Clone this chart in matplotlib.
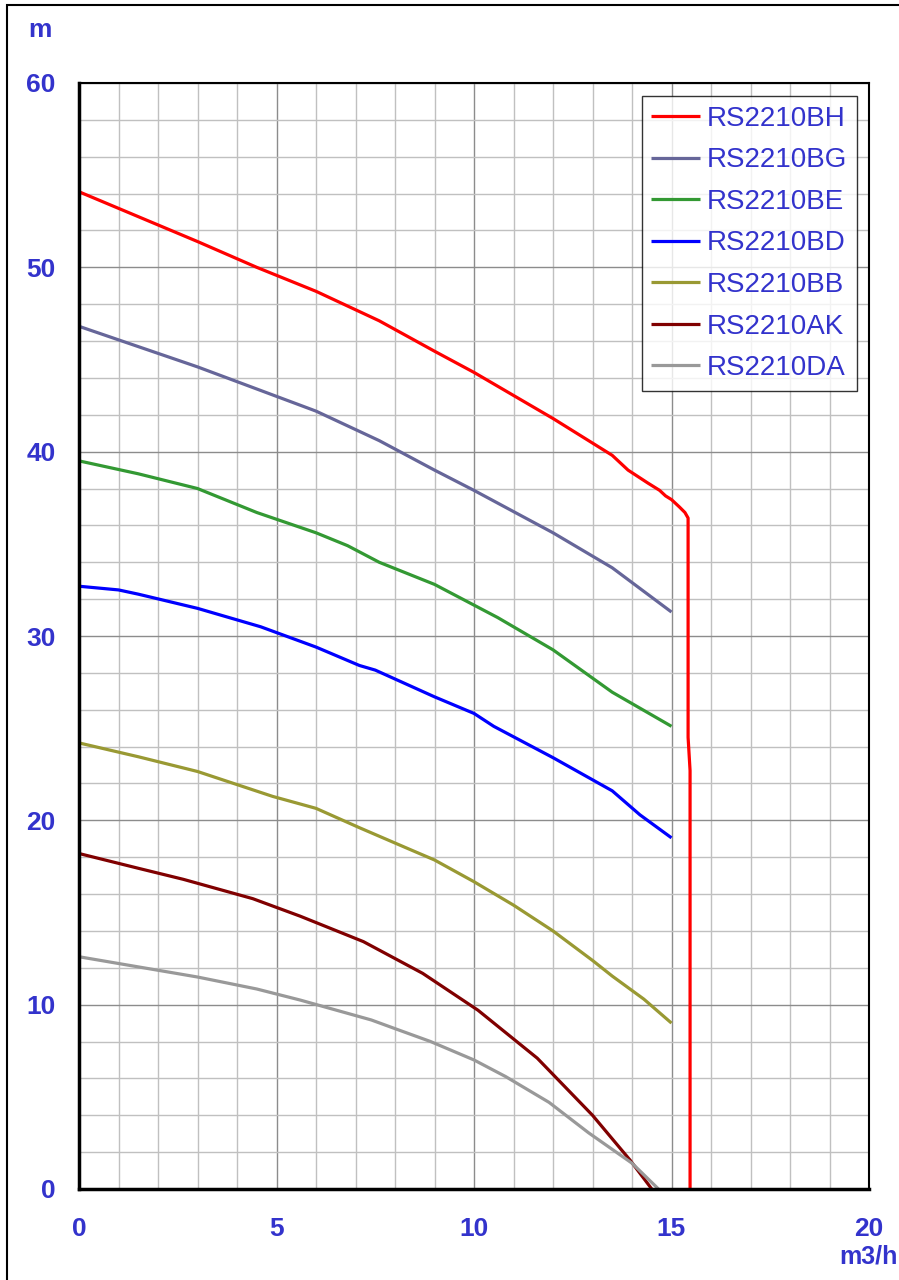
import numpy as np
import matplotlib
matplotlib.use('Agg')
import matplotlib.pyplot as plt
from matplotlib.patches import Rectangle
from matplotlib.ticker import MultipleLocator

plt.rcParams['font.family'] = ['Liberation Sans', 'DejaVu Sans']

# pump curves: flow (m3/h) / head (m)
BH_q = [0, 1.5, 3, 4.5, 6, 7.6, 9, 10, 11, 12, 13.5, 13.9, 14.4, 14.7, 14.85, 15.0, 15.2, 15.34, 15.42, 15.42, 15.47, 15.47]
BH_h = [54.1, 52.75, 51.4, 50.0, 48.7, 47.1, 45.45, 44.3, 43.05, 41.8, 39.8, 39.0, 38.3, 37.9, 37.6, 37.4, 37.0, 36.7, 36.4, 24.5, 22.7, 0]
BG_q = [0, 1.5, 3, 4.5, 6, 7.6, 9, 10, 12, 13.5, 15]
BG_h = [46.8, 45.7, 44.6, 43.4, 42.2, 40.6, 39.0, 37.9, 35.6, 33.7, 31.3]
BE_q = [0, 1.5, 3, 4.5, 6, 6.8, 7.6, 9, 10.6, 12, 13.5, 15]
BE_h = [39.5, 38.8, 38.0, 36.7, 35.6, 34.9, 34.0, 32.8, 31.0, 29.25, 26.95, 25.1]
BD_q = [0, 1, 1.5, 3, 4.6, 6, 7.1, 7.5, 9, 10, 10.5, 12, 13.5, 14.2, 15]
BD_h = [32.7, 32.5, 32.27, 31.5, 30.5, 29.4, 28.4, 28.15, 26.7, 25.8, 25.1, 23.4, 21.6, 20.3, 19.05]
BB_q = [0, 1.5, 3, 4.9, 6, 7.1, 8.4, 9, 10, 11, 12, 13, 13.5, 14.3, 15]
BB_h = [24.2, 23.45, 22.65, 21.3, 20.65, 19.6, 18.4, 17.85, 16.67, 15.4, 14.0, 12.4, 11.55, 10.3, 9.0]
AK_q = [0, 1.5, 2.64, 4.4, 5.6, 7.2, 8.7, 10.1, 11.6, 13.0, 13.95, 14.5]
AK_h = [18.2, 17.4, 16.8, 15.75, 14.8, 13.42, 11.7, 9.7, 7.1, 4.0, 1.57, 0]
DA_q = [0, 1.5, 3, 4.5, 5.6, 7.4, 8, 8.9, 10, 10.8, 11.9, 12.9, 14.0, 14.67]
DA_h = [12.6, 12.05, 11.5, 10.85, 10.25, 9.17, 8.7, 8.0, 7.0, 6.1, 4.7, 3.05, 1.4, 0]

names = ['RS2210BH', 'RS2210BG', 'RS2210BE', 'RS2210BD', 'RS2210BB', 'RS2210AK', 'RS2210DA']
colors = ['#ff0000', '#666699', '#339933', '#0000ff', '#999933', '#800000', '#999999']
curves = [(BH_q, BH_h), (BG_q, BG_h), (BE_q, BE_h), (BD_q, BD_h),
          (BB_q, BB_h), (AK_q, AK_h), (DA_q, DA_h)]

txt = '#3333cc'

fig = plt.figure(figsize=(8.99, 12.8), dpi=100)
ax = fig.add_axes([79/899, 1-1189/1280, 790/899, (1189-83)/1280])

# outer frame
fig.patches.append(Rectangle((7/899, -0.01), 1.0, 1-5/1280+0.01, transform=fig.transFigure,
                             fill=False, edgecolor='black', linewidth=1.5, zorder=0))

ax.set_xlim(0, 20)
ax.set_ylim(0, 60)
ax.xaxis.set_major_locator(MultipleLocator(5))
ax.xaxis.set_minor_locator(MultipleLocator(1))
ax.yaxis.set_major_locator(MultipleLocator(10))
ax.yaxis.set_minor_locator(MultipleLocator(2))
ax.grid(which='minor', color='#c0c0c0', linewidth=1.0)
ax.grid(which='major', color='#8c8c8c', linewidth=1.0)
ax.set_axisbelow(True)

for (q, h), c, n in zip(curves, colors, names):
    ax.plot(q, h, color=c, linewidth=2.3, label=n, solid_capstyle='butt')

ax.tick_params(which='both', length=0)
ax.tick_params(axis='x', pad=20)
ax.tick_params(axis='y', pad=17)
for lab in ax.get_xticklabels() + ax.get_yticklabels():
    lab.set_fontsize(19)
    lab.set_fontweight('bold')
    lab.set_color(txt)

ax.spines['left'].set_linewidth(2.5)
ax.spines['bottom'].set_linewidth(2.5)
ax.spines['top'].set_linewidth(1.5)
ax.spines['right'].set_linewidth(1.5)

fig.text(40/899, 1-30/1280, 'm', fontsize=19, fontweight='bold', color=txt, ha='center', va='center')
fig.text(898/899, 1-1256/1280, 'm3/h', fontsize=18, fontweight='bold', color=txt, ha='right', va='center')

leg = ax.legend(loc='upper right', bbox_to_anchor=(857/899, 1-96/1280), bbox_transform=fig.transFigure,
                fontsize=20, frameon=True, fancybox=False, borderaxespad=0,
                handlelength=1.75, handletextpad=0.25, labelspacing=0.56, borderpad=0.35)
leg.get_frame().set_edgecolor('black')
leg.get_frame().set_linewidth(1.0)
for t in leg.get_texts():
    t.set_color(txt)

fig.savefig('out.png', dpi=100)
